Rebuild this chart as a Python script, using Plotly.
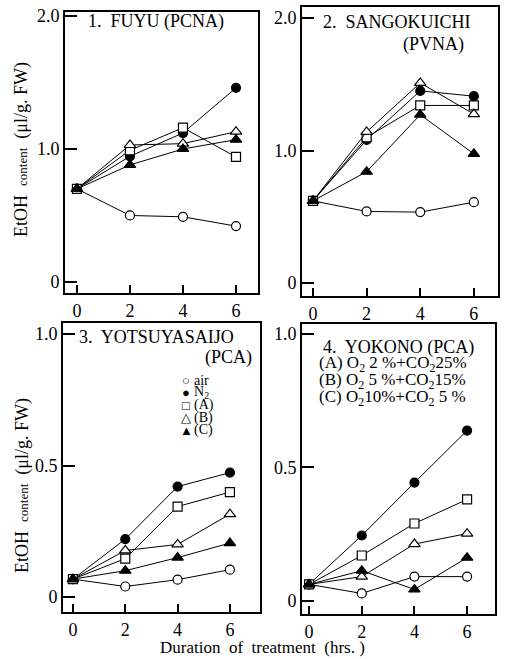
import plotly.graph_objects as go

W, H = 505, 659
hours = [0, 2, 4, 6]
series_names = ["air", "N2", "(A)", "(B)", "(C)"]

# Panel 1: FUYU (PCNA)
fuyu = {
    "air": [0.70, 0.50, 0.49, 0.42],
    "N2": [0.70, 0.945, 1.12, 1.46],
    "(A)": [0.70, 0.99, 1.16, 0.94],
    "(B)": [0.70, 1.03, 1.04, 1.13],
    "(C)": [0.70, 0.88, 1.00, 1.07],
}
# Panel 2: SANGOKUICHI (PVNA)
sangokuichi = {
    "air": [0.62, 0.54, 0.535, 0.61],
    "N2": [0.62, 1.08, 1.45, 1.41],
    "(A)": [0.62, 1.10, 1.34, 1.34],
    "(B)": [0.62, 1.14, 1.51, 1.275],
    "(C)": [0.62, 0.84, 1.27, 0.975],
}
# Panel 3: YOTSUYASAIJO (PCA)
yotsuya = {
    "air": [0.068, 0.04, 0.066, 0.104],
    "N2": [0.068, 0.22, 0.42, 0.473],
    "(A)": [0.068, 0.146, 0.344, 0.399],
    "(B)": [0.068, 0.177, 0.20, 0.315],
    "(C)": [0.068, 0.10, 0.15, 0.205],
}
# Panel 4: YOKONO (PCA)
yokono = {
    "air": [0.062, 0.028, 0.091, 0.091],
    "N2": [0.062, 0.245, 0.443, 0.638],
    "(A)": [0.062, 0.17, 0.29, 0.38],
    "(B)": [0.062, 0.091, 0.213, 0.252],
    "(C)": [0.062, 0.113, 0.043, 0.162],
}

panel_titles = ["1.  FUYU (PCNA)", "2.  SANGOKUICHI", "3.  YOTSUYASAIJO", "4.  YOKONO (PCA)"]
panel_subtitles = [None, "(PVNA)", "(PCA)", None]
y_tickvals_top = [0, 1.0, 2.0]
y_ticktext_top = ["0", "1.0", "2.0"]
y_tickvals_bot = [0, 0.5, 1.0]
y_ticktext_bot = ["0", "0.5", "1.0"]
x_ticks = [0, 2, 4, 6]
legend_labels = ["air", "N<sub>2</sub>", "(A)", "(B)", "(C)"]
legend_symbols = ["○", "●", "□", "△", "▲"]
condition_lines = [
    "(A) O<sub>2</sub> 2 %+CO<sub>2</sub>25%",
    "(B) O<sub>2</sub> 5 %+CO<sub>2</sub>15%",
    "(C) O<sub>2</sub>10%+CO<sub>2</sub> 5 %",
]

FONT = "Liberation Serif"
marker_style = {
    "air": dict(symbol="circle", color="white"),
    "N2": dict(symbol="circle", color="black"),
    "(A)": dict(symbol="square", color="white"),
    "(B)": dict(symbol="triangle-up", color="white"),
    "(C)": dict(symbol="triangle-up", color="black"),
}

# pixel boxes: (left, right, top, bottom)
boxes = [(65, 258, 12, 293), (302, 498, 7, 296), (63, 260, 323, 612), (302, 495, 324, 614)]
xranges = [(-0.45, 6.83), (-0.41, 6.9), (-0.38, 7.15), (-0.27, 7.06)]
yranges = [(-0.083, 2.03), (-0.098, 2.083), (-0.057, 1.042), (-0.049, 1.037)]

fig = go.Figure()
datasets = [fuyu, sangokuichi, yotsuya, yokono]
for i, ds in enumerate(datasets):
    ax = "" if i == 0 else str(i + 1)
    for name in series_names:
        ms = marker_style[name]
        sym = ms["symbol"]
        fig.add_trace(go.Scatter(
            x=hours, y=ds[name], mode="lines+markers",
            xaxis="x" + ax, yaxis="y" + ax, showlegend=False,
            line=dict(color="black", width=1),
            marker=dict(symbol=sym, size=9 if "triangle" not in sym else 10,
                        color=ms["color"], line=dict(color="black", width=1.2)),
        ))

layout = dict(
    template="none",
    width=W, height=H, margin=dict(l=0, r=0, t=0, b=0, autoexpand=False),
    paper_bgcolor="white", plot_bgcolor="white",
    font=dict(family=FONT, color="black", size=16),
    showlegend=False,
)
for i, (l, r, t, b) in enumerate(boxes):
    ax = "" if i == 0 else str(i + 1)
    top_row = i < 2
    layout["xaxis" + ax] = dict(
        domain=[l / W, r / W], range=list(xranges[i]), anchor="y" + ax,
        showline=True, mirror=True, linecolor="black", linewidth=2,
        ticks="inside", ticklen=8, tickwidth=1.5, tickcolor="black",
        tickvals=x_ticks, ticktext=[str(v) for v in x_ticks], automargin=False,
        showgrid=False, zeroline=False, tickfont=dict(size=18, family=FONT),
    )
    layout["yaxis" + ax] = dict(
        domain=[1 - b / H, 1 - t / H], range=list(yranges[i]), anchor="x" + ax,
        showline=True, mirror=True, linecolor="black", linewidth=2,
        ticks="inside", ticklen=12, tickwidth=1.5, tickcolor="black",
        tickvals=y_tickvals_top if top_row else y_tickvals_bot,
        ticktext=y_ticktext_top if top_row else y_ticktext_bot, automargin=False,
        showgrid=False, zeroline=False, tickfont=dict(size=18, family=FONT),
    )
fig.update_layout(**layout)

ann = []
def A(text, px, py, size=16, xanchor="left", yanchor="middle", angle=0):
    ann.append(dict(text=text, x=px / W, y=1 - py / H, xref="paper", yref="paper",
                    showarrow=False, xanchor=xanchor, yanchor=yanchor, textangle=angle,
                    font=dict(family=FONT, size=size, color="black")))

A(panel_titles[0], 86, 22, size=18)
A(panel_titles[1], 321, 22, size=18)
A(panel_subtitles[1], 466, 44, size=18, xanchor="right")
A(panel_titles[2], 77, 337, size=18)
A(panel_subtitles[2], 254, 358, size=18, xanchor="right")
A(panel_titles[3], 321, 347, size=18)
for k, line in enumerate(condition_lines):
    A(line, 317, 364 + 17 * k, size=17)
for k, (sym, lab) in enumerate(zip(legend_symbols, legend_labels)):
    A(sym, 186, 380 + 12.6 * k, size=13, xanchor="center")
    A(lab, 192, 380 + 12.6 * k, size=14)

ytitle = "EtOH  <span style='font-size:13px'>content</span>  (μl/g. FW)"
A(ytitle, 22, 150, size=18, xanchor="center", angle=-90)
A(ytitle, 22, 486, size=18, xanchor="center", angle=-90)
A("Duration  of  treatment  (hrs. )", 262, 647, size=17, xanchor="center")

fig.update_layout(annotations=ann)
fig.write_html("out.html", config={"displayModeBar": False},
               post_script="document.body.style.margin='0';")
